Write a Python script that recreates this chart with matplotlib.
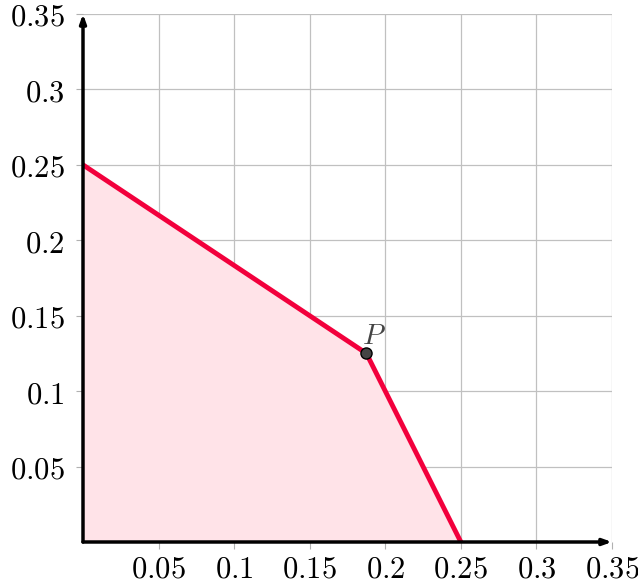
import matplotlib
matplotlib.use("Agg")
import matplotlib.pyplot as plt
import numpy as np

plt.rcParams["mathtext.fontset"] = "cm"
plt.rcParams["font.family"] = "serif"
plt.rcParams["font.serif"] = ["DejaVu Serif"]

# region boundary
region_x = [0.0, 0.1875, 0.25]
region_y = [0.25, 0.125, 0.0]
point_p = (0.1875, 0.125)
ticks = [0.05, 0.1, 0.15, 0.2, 0.25, 0.3, 0.35]
tick_labels = ["0.05", "0.1", "0.15", "0.2", "0.25", "0.3", "0.35"]

fig = plt.figure(figsize=(6.38, 5.87), dpi=100)
ax = fig.add_axes([83 / 638, 45 / 587, 529 / 638, 528 / 587])
ax.set_xlim(0, 0.35)
ax.set_ylim(0, 0.35)

# shaded feasible region
fx = [0.0] + region_x + [0.0]
fy = [0.0] + region_y + [0.0]
ax.fill(fx, fy, color="#ffe3e8", zorder=1, lw=0)
ax.plot(region_x, region_y, color="#f2003c", lw=3.5, zorder=3, solid_joinstyle="miter")

ax.plot(*point_p, "o", ms=8, mfc="#444444", mec="black", mew=1, zorder=4)
ax.text(point_p[0] + 0.005, point_p[1] + 0.002, "$P$", fontsize=21, color="#444444",
        ha="center", va="bottom", zorder=5)

ax.set_xticks(ticks)
ax.set_yticks(ticks)
ax.set_xticklabels(["$" + t + "$" for t in tick_labels], fontsize=22)
ax.set_yticklabels(["$" + t + "$" for t in tick_labels], fontsize=22)
ax.tick_params(axis="both", length=5, width=0.8, color="#b0b0b0")
ax.tick_params(axis="x", pad=3)
ax.tick_params(axis="y", pad=8)
ax.grid(True, color="#c0c0c0", lw=0.9, zorder=0)
ax.set_axisbelow(True)

for s in ax.spines.values():
    s.set_visible(False)

# axes with arrow heads
ax.annotate("", xy=(1.0, 0), xytext=(0, 0), xycoords="axes fraction",
            arrowprops=dict(arrowstyle="-|>,head_length=0.5,head_width=0.18", lw=2.5,
                            color="black", shrinkA=0, shrinkB=0), zorder=6)
ax.annotate("", xy=(0, 1.0), xytext=(0, 0), xycoords="axes fraction",
            arrowprops=dict(arrowstyle="-|>,head_length=0.5,head_width=0.18", lw=2.5,
                            color="black", shrinkA=0, shrinkB=0), zorder=6)

fig.savefig("out.png", dpi=100)
